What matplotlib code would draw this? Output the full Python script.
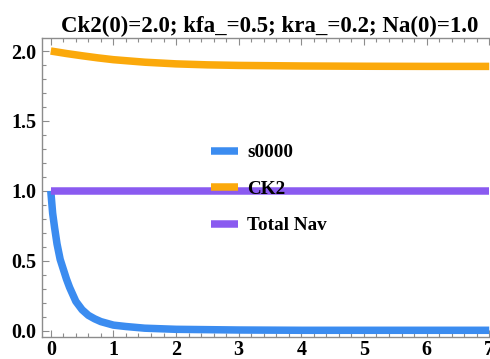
import numpy as np
import matplotlib.pyplot as plt
from matplotlib.ticker import MultipleLocator

# values
t_s = [0, 0.03, 0.06, 0.1, 0.15, 0.2, 0.25, 0.3, 0.4, 0.5, 0.6, 0.7, 0.8, 1.0, 1.2, 1.5, 2.0, 3.0, 4.0, 5.0, 6.0, 7.0]
s0000 = [1.0, 0.84, 0.74, 0.62, 0.51, 0.44, 0.37, 0.31, 0.21, 0.15, 0.11, 0.085, 0.065, 0.04, 0.03, 0.018, 0.01, 0.005, 0.003, 0.003, 0.003, 0.003]

t_ck = [0, 0.25, 0.5, 0.75, 1.0, 1.5, 2.0, 2.5, 3.0, 4.0, 5.0, 6.0, 7.0]
ck2 = [2.0, 1.982, 1.966, 1.951, 1.938, 1.92, 1.908, 1.901, 1.897, 1.893, 1.891, 1.89, 1.89]

t_nav = [0, 7.0]
total_nav = [1.0, 1.0]

title = "Ck2(0)=2.0; kfa_=0.5; kra_=0.2; Na(0)=1.0"

plt.rcParams['font.family'] = ['Liberation Serif', 'DejaVu Serif']
plt.rcParams['font.weight'] = 'bold'

fig = plt.figure(figsize=(4.9, 3.59), dpi=100)
ax = fig.add_axes([42 / 490, 22 / 359, 456 / 490, 299 / 359])

lw = 5.4
ax.plot(t_s, s0000, color='#3b8cf0', lw=lw, solid_capstyle='butt', label='s0000')
ax.plot(t_ck, ck2, color='#fba90b', lw=lw, solid_capstyle='butt', label='CK2')
ax.plot(t_nav, total_nav, color='#8a5af0', lw=lw, solid_capstyle='butt', label='Total Nav')

ax.set_xlim(-0.14, 7.14)
ax.set_ylim(-0.045, 2.093)

ax.xaxis.set_major_locator(MultipleLocator(1))
ax.xaxis.set_minor_locator(MultipleLocator(0.2))
ax.yaxis.set_major_locator(MultipleLocator(0.5))
ax.yaxis.set_minor_locator(MultipleLocator(0.1))
ax.xaxis.set_major_formatter(plt.FuncFormatter(lambda v, p: f"{int(round(v))}"))
ax.yaxis.set_major_formatter(plt.FuncFormatter(lambda v, p: f"{v:.1f}"))

frame = '#8c8c8c'
for sp in ax.spines.values():
    sp.set_color(frame)
    sp.set_linewidth(1.0)
ax.tick_params(which='both', direction='in', top=True, right=True, color=frame, width=0.8)
ax.tick_params(which='major', length=5, labelsize=14.5)
ax.tick_params(axis='x', which='major', pad=2)
ax.tick_params(axis='y', which='major', pad=4)
ax.tick_params(which='minor', length=3)
for lab in ax.get_xticklabels() + ax.get_yticklabels():
    lab.set_fontweight('bold')

ax.set_title(title, fontsize=16.5, fontweight='bold', pad=4)

ax.legend(loc='upper left', bbox_to_anchor=(211 / 490, 1 - 144 / 359), bbox_transform=fig.transFigure,
          frameon=False, handlelength=1.4, handletextpad=0.5, labelspacing=1.0,
          borderpad=0, borderaxespad=0, prop={'weight': 'bold', 'size': 13.75})

fig.savefig('out.png', dpi=100)
